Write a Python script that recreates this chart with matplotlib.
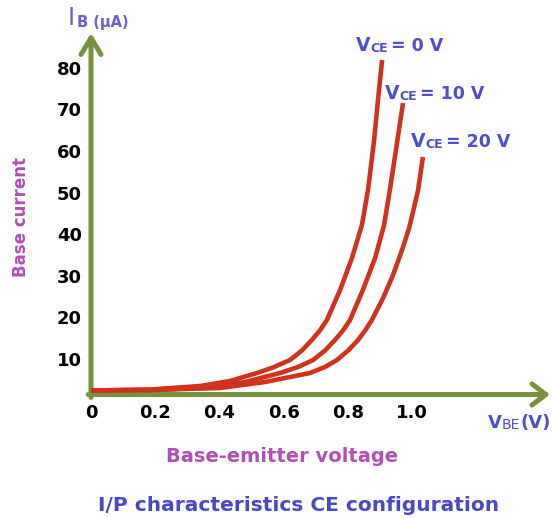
import matplotlib
matplotlib.use("Agg")
import matplotlib.pyplot as plt

# ---- data ----
vbe_0 = [0.000, 0.184, 0.340, 0.433, 0.517, 0.567, 0.620, 0.657, 0.688, 0.713, 0.735,
         0.776, 0.813, 0.844, 0.863, 0.882, 0.894, 0.907]
ib_0 = [2.43, 2.67, 3.51, 4.71, 6.63, 7.96, 9.76, 12.04, 14.57, 16.85, 19.38,
        26.59, 34.28, 42.21, 50.63, 62.64, 72.26, 81.88]
vbe_10 = [0.000, 0.184, 0.371, 0.480, 0.589, 0.645, 0.692, 0.729, 0.760, 0.785, 0.807,
          0.847, 0.885, 0.913, 0.931, 0.950, 0.972]
ib_10 = [2.43, 2.55, 3.15, 4.47, 6.63, 8.08, 9.76, 12.04, 14.57, 16.85, 19.38,
         26.59, 34.28, 42.21, 50.63, 60.24, 71.54]
vbe_20 = [0.000, 0.184, 0.402, 0.542, 0.682, 0.729, 0.766, 0.801, 0.832, 0.854, 0.875,
          0.910, 0.941, 0.969, 0.991, 1.006, 1.019, 1.034]
ib_20 = [2.43, 2.55, 3.03, 4.47, 6.63, 8.08, 9.76, 12.04, 14.57, 16.85, 19.38,
         24.66, 30.19, 36.20, 41.49, 46.30, 50.63, 58.56]

x_ticks = [0, 0.2, 0.4, 0.6, 0.8, 1.0]
x_tick_labels = ["0", "0.2", "0.4", "0.6", "0.8", "1.0"]
y_ticks = [10, 20, 30, 40, 50, 60, 70, 80]
y_tick_labels = ["10", "20", "30", "40", "50", "60", "70", "80"]
curve_labels = ["= 0 V", "= 10 V", "= 20 V"]

RED = "#d0321d"
GREEN = "#76923c"
BLUE = "#4d4dcf"
PURPLE = "#b04fb4"
TITLE_BLUE = "#4747c8"

W, H = 552, 518
fig = plt.figure(figsize=(W / 100, H / 100), dpi=100)
plt.rcParams['font.family'] = ['DejaVu Sans']


def fx(px):
    return px / W


def fy(py):
    return (H - py) / H


# axes: y axis at px 91, x axis at py 394.5, arrow tips at px 550 / py 33
ax = fig.add_axes([fx(91), fy(394.5), (550 - 91) / W, (394.5 - 33) / H])
ax.set_xlim(0, (550 - 91) / 321)
ax.set_ylim((400.6 - 394.5) / 4.16, (400.6 - 33) / 4.16)
for s in ax.spines.values():
    s.set_visible(False)
ax.patch.set_alpha(0)

for xs, ys in [(vbe_0, ib_0), (vbe_10, ib_10), (vbe_20, ib_20)]:
    ax.plot(xs, ys, color=RED, lw=3.3, solid_capstyle='butt',
            solid_joinstyle='round', zorder=3, clip_on=False)

ax.set_xticks(x_ticks)
ax.set_xticklabels(x_tick_labels, fontsize=13, fontweight='bold')
ax.set_yticks(y_ticks)
ax.set_yticklabels(y_tick_labels, fontsize=13, fontweight='bold')
ax.tick_params(axis='x', length=0, pad=6.5)
ax.tick_params(axis='y', length=0, pad=6.5)

# axis arrows
ax.annotate('', xy=(1, 0), xytext=(-0.006, 0), xycoords='axes fraction',
            arrowprops=dict(arrowstyle='->,head_length=0.5,head_width=0.38',
                            lw=3.6, color=GREEN, mutation_scale=20,
                            shrinkA=0, shrinkB=0), zorder=2)
ax.annotate('', xy=(0, 1), xytext=(0, -0.008), xycoords='axes fraction',
            arrowprops=dict(arrowstyle='->,head_length=0.6,head_width=0.36',
                            lw=3.6, color=GREEN, mutation_scale=20,
                            shrinkA=0, shrinkB=0), zorder=2)


def chain(px, py, parts, color):
    prev = None
    for txt, size, weight, gap in parts:
        if prev is None:
            prev = fig.text(fx(px), fy(py), txt, fontsize=size, fontweight=weight,
                            color=color, ha='left', va='baseline')
        else:
            prev = fig.add_artist(matplotlib.text.Annotation(
                txt, xy=(1, 0), xycoords=prev, xytext=(gap, 0),
                textcoords='offset pixels', fontsize=size, fontweight=weight,
                color=color, ha='left', va='bottom'))
    return prev


# curve labels
label_pos = [(356, 51), (385, 99), (411, 147)]
for (px, py), lab in zip(label_pos, curve_labels):
    chain(px, py, [("V", 13.5, 'bold', 0), ("CE", 9, 'bold', 0),
                   (lab, 12.5, 'bold', 3)], BLUE)

# y axis quantity label
chain(68, 25, [("I", 17, 'normal', 0), ("B (µA)", 10.5, 'bold', 2)], "#6a5fd8")

# x axis quantity label
chain(488, 428, [("V", 13, 'bold', 0), ("BE", 10, 'normal', 0),
                 ("(V)", 13, 'bold', 0)], BLUE)

fig.text(fx(21), fy(217), "Base current", rotation=90, fontsize=12,
         fontweight='bold', color=PURPLE, ha='center', va='center')
fig.text(fx(282), fy(462), "Base-emitter voltage", fontsize=14,
         fontweight='bold', color=PURPLE, ha='center', va='baseline')
fig.text(fx(299), fy(511), "I/P characteristics CE configuration", fontsize=14.5,
         fontweight='bold', color=TITLE_BLUE, ha='center', va='baseline')

fig.savefig("out.png", dpi=100)
